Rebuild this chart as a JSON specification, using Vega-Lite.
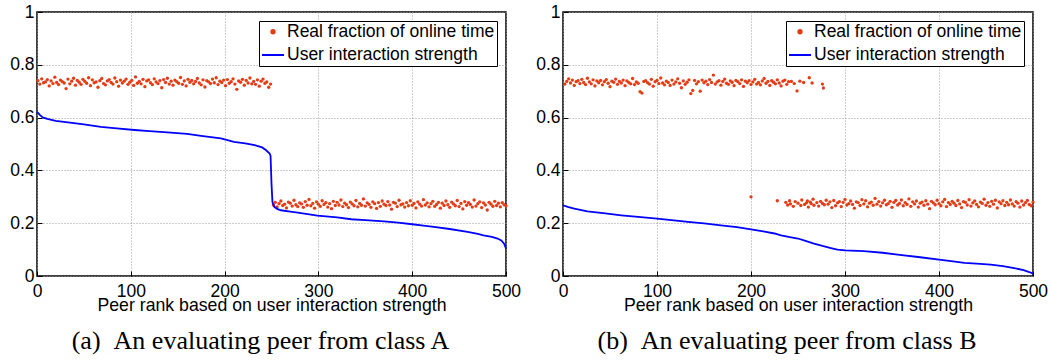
{
"$schema": "https://vega.github.io/schema/vega-lite/v6.json",
"padding": {"left": 8, "top": 2, "right": 2, "bottom": 2},
"spacing": 12,
"config": {
 "view": {"stroke": "#000000", "strokeWidth": 1.5},
 "axis": {"labelFont": "Liberation Sans", "labelFontSize": 17.5, "labelColor": "#000000", "titleFont": "Liberation Sans", "titleFontSize": 17.7, "titleFontWeight": "normal", "titleColor": "#000000", "domain": false, "gridColor": "#9a9a9a", "gridDash": [1, 2], "gridWidth": 1, "tickColor": "#000000", "tickSize": -5, "tickWidth": 1, "labelOverlap": false, "labelFlush": false},
 "legend": {"orient": "top-right", "offset": 9, "labelFont": "Liberation Sans", "labelFontSize": 17.5, "labelColor": "#000000", "labelLimit": 0, "strokeColor": "#000000", "fillColor": "#ffffff", "padding": 2, "rowPadding": 2, "labelOffset": 2, "symbolStrokeWidth": 2, "symbolOpacity": 1}
},
"resolve": {"scale": {"color": "independent", "shape": "independent", "size": "independent"}},
"datasets": {
 "ptsA": [
{"rank":1,"value":0.740},{"rank":3,"value":0.727},{"rank":5,"value":0.747},{"rank":7,"value":0.732},{"rank":9,"value":0.735},{"rank":11,"value":0.744},{"rank":13,"value":0.720},{"rank":15,"value":0.739},{"rank":17,"value":0.729},{"rank":19,"value":0.753},
{"rank":21,"value":0.733},{"rank":23,"value":0.725},{"rank":25,"value":0.742},{"rank":27,"value":0.736},{"rank":29,"value":0.731},{"rank":31,"value":0.710},{"rank":33,"value":0.746},{"rank":35,"value":0.728},{"rank":37,"value":0.738},{"rank":39,"value":0.749},
{"rank":41,"value":0.723},{"rank":43,"value":0.741},{"rank":45,"value":0.734},{"rank":47,"value":0.726},{"rank":49,"value":0.745},{"rank":51,"value":0.737},{"rank":53,"value":0.730},{"rank":55,"value":0.751},{"rank":57,"value":0.721},{"rank":59,"value":0.743},
{"rank":61,"value":0.732},{"rank":63,"value":0.735},{"rank":65,"value":0.715},{"rank":67,"value":0.740},{"rank":69,"value":0.748},{"rank":71,"value":0.729},{"rank":73,"value":0.724},{"rank":75,"value":0.739},{"rank":77,"value":0.744},{"rank":79,"value":0.733},
{"rank":81,"value":0.727},{"rank":83,"value":0.750},{"rank":85,"value":0.736},{"rank":87,"value":0.719},{"rank":89,"value":0.742},{"rank":91,"value":0.731},{"rank":93,"value":0.738},{"rank":95,"value":0.746},{"rank":97,"value":0.726},{"rank":99,"value":0.734},
{"rank":101,"value":0.741},{"rank":103,"value":0.722},{"rank":105,"value":0.754},{"rank":107,"value":0.730},{"rank":109,"value":0.737},{"rank":111,"value":0.728},{"rank":113,"value":0.745},{"rank":115,"value":0.717},{"rank":117,"value":0.739},{"rank":119,"value":0.743},
{"rank":121,"value":0.732},{"rank":123,"value":0.725},{"rank":125,"value":0.747},{"rank":127,"value":0.735},{"rank":129,"value":0.729},{"rank":131,"value":0.740},{"rank":133,"value":0.713},{"rank":135,"value":0.744},{"rank":137,"value":0.733},{"rank":139,"value":0.749},
{"rank":141,"value":0.727},{"rank":143,"value":0.738},{"rank":145,"value":0.723},{"rank":147,"value":0.742},{"rank":149,"value":0.736},{"rank":151,"value":0.730},{"rank":153,"value":0.752},{"rank":155,"value":0.726},{"rank":157,"value":0.739},{"rank":159,"value":0.720},
{"rank":161,"value":0.745},{"rank":163,"value":0.734},{"rank":165,"value":0.741},{"rank":167,"value":0.728},{"rank":169,"value":0.737},{"rank":171,"value":0.748},{"rank":173,"value":0.731},{"rank":175,"value":0.724},{"rank":177,"value":0.743},{"rank":179,"value":0.716},
{"rank":181,"value":0.740},{"rank":183,"value":0.735},{"rank":185,"value":0.729},{"rank":187,"value":0.746},{"rank":189,"value":0.732},{"rank":191,"value":0.751},{"rank":193,"value":0.725},{"rank":195,"value":0.738},{"rank":197,"value":0.733},{"rank":199,"value":0.742},
{"rank":201,"value":0.721},{"rank":203,"value":0.744},{"rank":205,"value":0.730},{"rank":207,"value":0.736},{"rank":209,"value":0.747},{"rank":211,"value":0.727},{"rank":213,"value":0.707},{"rank":215,"value":0.739},{"rank":217,"value":0.734},{"rank":219,"value":0.745},
{"rank":221,"value":0.723},{"rank":223,"value":0.741},{"rank":225,"value":0.731},{"rank":227,"value":0.750},{"rank":229,"value":0.728},{"rank":231,"value":0.737},{"rank":233,"value":0.726},{"rank":235,"value":0.743},{"rank":237,"value":0.719},{"rank":239,"value":0.738},
{"rank":241,"value":0.746},{"rank":243,"value":0.730},{"rank":245,"value":0.735},{"rank":247,"value":0.715},{"rank":249,"value":0.727},
{"rank":252,"value":0.269},{"rank":254,"value":0.279},{"rank":256,"value":0.262},{"rank":258,"value":0.274},{"rank":260,"value":0.284},{"rank":262,"value":0.267},{"rank":264,"value":0.272},{"rank":266,"value":0.258},{"rank":268,"value":0.280},{"rank":270,"value":0.276},
{"rank":272,"value":0.265},{"rank":274,"value":0.287},{"rank":276,"value":0.270},{"rank":278,"value":0.263},{"rank":280,"value":0.277},{"rank":282,"value":0.273},{"rank":284,"value":0.260},{"rank":286,"value":0.282},{"rank":288,"value":0.268},{"rank":290,"value":0.290},
{"rank":292,"value":0.266},{"rank":294,"value":0.275},{"rank":296,"value":0.257},{"rank":298,"value":0.281},{"rank":300,"value":0.272},{"rank":302,"value":0.264},{"rank":304,"value":0.285},{"rank":306,"value":0.271},{"rank":308,"value":0.278},{"rank":310,"value":0.261},
{"rank":312,"value":0.274},{"rank":314,"value":0.255},{"rank":316,"value":0.283},{"rank":318,"value":0.267},{"rank":320,"value":0.279},{"rank":322,"value":0.269},{"rank":324,"value":0.288},{"rank":326,"value":0.263},{"rank":328,"value":0.276},{"rank":330,"value":0.270},
{"rank":332,"value":0.259},{"rank":334,"value":0.280},{"rank":336,"value":0.273},{"rank":338,"value":0.266},{"rank":340,"value":0.286},{"rank":342,"value":0.262},{"rank":344,"value":0.275},{"rank":346,"value":0.268},{"rank":348,"value":0.292},{"rank":350,"value":0.265},
{"rank":352,"value":0.277},{"rank":354,"value":0.271},{"rank":356,"value":0.260},{"rank":358,"value":0.281},{"rank":360,"value":0.274},{"rank":362,"value":0.256},{"rank":364,"value":0.278},{"rank":366,"value":0.264},{"rank":368,"value":0.284},{"rank":370,"value":0.272},
{"rank":372,"value":0.267},{"rank":374,"value":0.282},{"rank":376,"value":0.269},{"rank":378,"value":0.253},{"rank":380,"value":0.279},{"rank":382,"value":0.276},{"rank":384,"value":0.263},{"rank":386,"value":0.287},{"rank":388,"value":0.270},{"rank":390,"value":0.273},
{"rank":392,"value":0.261},{"rank":394,"value":0.278},{"rank":396,"value":0.266},{"rank":398,"value":0.285},{"rank":400,"value":0.268},{"rank":402,"value":0.275},{"rank":404,"value":0.258},{"rank":406,"value":0.281},{"rank":408,"value":0.272},{"rank":410,"value":0.265},
{"rank":412,"value":0.289},{"rank":414,"value":0.269},{"rank":416,"value":0.277},{"rank":418,"value":0.262},{"rank":420,"value":0.274},{"rank":422,"value":0.283},{"rank":424,"value":0.264},{"rank":426,"value":0.271},{"rank":428,"value":0.279},{"rank":430,"value":0.257},
{"rank":432,"value":0.276},{"rank":434,"value":0.267},{"rank":436,"value":0.284},{"rank":438,"value":0.270},{"rank":440,"value":0.260},{"rank":442,"value":0.280},{"rank":444,"value":0.273},{"rank":446,"value":0.266},{"rank":448,"value":0.286},{"rank":450,"value":0.263},
{"rank":452,"value":0.275},{"rank":454,"value":0.254},{"rank":456,"value":0.282},{"rank":458,"value":0.268},{"rank":460,"value":0.278},{"rank":462,"value":0.271},{"rank":464,"value":0.261},{"rank":466,"value":0.288},{"rank":468,"value":0.265},{"rank":470,"value":0.274},
{"rank":472,"value":0.281},{"rank":474,"value":0.259},{"rank":476,"value":0.277},{"rank":478,"value":0.269},{"rank":480,"value":0.250},{"rank":482,"value":0.279},{"rank":484,"value":0.272},{"rank":486,"value":0.264},{"rank":488,"value":0.283},{"rank":490,"value":0.267},
{"rank":492,"value":0.276},{"rank":494,"value":0.262},{"rank":496,"value":0.278},{"rank":498,"value":0.270},{"rank":500,"value":0.266}
 ],
 "ptsB": [
{"rank":2,"value":0.727},{"rank":4,"value":0.737},{"rank":6,"value":0.747},{"rank":8,"value":0.731},{"rank":10,"value":0.742},{"rank":12,"value":0.722},{"rank":14,"value":0.736},{"rank":16,"value":0.740},{"rank":18,"value":0.729},{"rank":20,"value":0.745},
{"rank":22,"value":0.733},{"rank":24,"value":0.725},{"rank":26,"value":0.749},{"rank":28,"value":0.735},{"rank":30,"value":0.728},{"rank":32,"value":0.743},{"rank":34,"value":0.720},{"rank":36,"value":0.739},{"rank":38,"value":0.732},{"rank":40,"value":0.741},
{"rank":42,"value":0.724},{"rank":44,"value":0.736},{"rank":46,"value":0.744},{"rank":48,"value":0.730},{"rank":50,"value":0.717},{"rank":52,"value":0.738},{"rank":54,"value":0.734},{"rank":56,"value":0.746},{"rank":58,"value":0.726},{"rank":60,"value":0.737},
{"rank":62,"value":0.731},{"rank":64,"value":0.742},{"rank":66,"value":0.721},{"rank":68,"value":0.739},{"rank":70,"value":0.733},{"rank":72,"value":0.728},{"rank":74,"value":0.748},{"rank":76,"value":0.725},{"rank":78,"value":0.735},{"rank":80,"value":0.730},
{"rank":82,"value":0.698},{"rank":84,"value":0.693},{"rank":86,"value":0.737},{"rank":88,"value":0.740},{"rank":90,"value":0.732},{"rank":92,"value":0.727},{"rank":94,"value":0.745},{"rank":96,"value":0.719},{"rank":98,"value":0.736},{"rank":100,"value":0.741},
{"rank":102,"value":0.729},{"rank":104,"value":0.750},{"rank":106,"value":0.731},{"rank":108,"value":0.724},{"rank":110,"value":0.738},{"rank":112,"value":0.733},{"rank":114,"value":0.722},{"rank":116,"value":0.742},{"rank":118,"value":0.727},{"rank":120,"value":0.735},
{"rank":122,"value":0.747},{"rank":124,"value":0.730},{"rank":126,"value":0.713},{"rank":128,"value":0.739},{"rank":130,"value":0.726},{"rank":132,"value":0.734},{"rank":134,"value":0.743},{"rank":136,"value":0.691},{"rank":138,"value":0.703},{"rank":140,"value":0.741},
{"rank":142,"value":0.728},{"rank":144,"value":0.736},{"rank":146,"value":0.700},{"rank":148,"value":0.742},{"rank":150,"value":0.732},{"rank":152,"value":0.738},{"rank":154,"value":0.725},{"rank":156,"value":0.744},{"rank":158,"value":0.733},{"rank":160,"value":0.761},
{"rank":162,"value":0.727},{"rank":164,"value":0.735},{"rank":166,"value":0.740},{"rank":168,"value":0.723},{"rank":170,"value":0.737},{"rank":172,"value":0.746},{"rank":174,"value":0.730},{"rank":176,"value":0.726},{"rank":178,"value":0.739},{"rank":180,"value":0.734},
{"rank":182,"value":0.721},{"rank":184,"value":0.741},{"rank":186,"value":0.736},{"rank":188,"value":0.729},{"rank":190,"value":0.743},{"rank":192,"value":0.718},{"rank":194,"value":0.738},{"rank":196,"value":0.732},{"rank":198,"value":0.740},{"rank":200,"value":0.725},
{"rank":202,"value":0.735},{"rank":204,"value":0.745},{"rank":206,"value":0.727},{"rank":208,"value":0.733},{"rank":210,"value":0.724},{"rank":212,"value":0.739},{"rank":214,"value":0.748},{"rank":216,"value":0.730},{"rank":218,"value":0.737},{"rank":220,"value":0.722},
{"rank":222,"value":0.740},{"rank":224,"value":0.734},{"rank":226,"value":0.728},{"rank":228,"value":0.743},{"rank":230,"value":0.731},{"rank":232,"value":0.720},{"rank":234,"value":0.738},{"rank":236,"value":0.742},{"rank":238,"value":0.726},{"rank":240,"value":0.736},
{"rank":243,"value":0.737},{"rank":246,"value":0.729},{"rank":249,"value":0.701},{"rank":252,"value":0.738},{"rank":256,"value":0.733},{"rank":262,"value":0.751},{"rank":265,"value":0.731},{"rank":276,"value":0.727},{"rank":277,"value":0.712},
{"rank":200,"value":0.300},{"rank":228,"value":0.285},
{"rank":237,"value":0.279},{"rank":239,"value":0.269},{"rank":241,"value":0.285},{"rank":242,"value":0.273},{"rank":245,"value":0.264},{"rank":247,"value":0.282},{"rank":250,"value":0.276},{"rank":253,"value":0.267},{"rank":254,"value":0.288},{"rank":257,"value":0.271},
{"rank":259,"value":0.277},{"rank":260,"value":0.284},{"rank":261,"value":0.261},{"rank":263,"value":0.280},{"rank":264,"value":0.274},{"rank":266,"value":0.291},{"rank":267,"value":0.268},{"rank":270,"value":0.278},{"rank":272,"value":0.265},{"rank":274,"value":0.283},
{"rank":276,"value":0.275},{"rank":278,"value":0.270},{"rank":280,"value":0.287},{"rank":282,"value":0.272},{"rank":284,"value":0.281},{"rank":286,"value":0.259},{"rank":288,"value":0.286},{"rank":290,"value":0.266},{"rank":292,"value":0.277},{"rank":294,"value":0.282},
{"rank":296,"value":0.263},{"rank":298,"value":0.279},{"rank":300,"value":0.290},{"rank":302,"value":0.269},{"rank":304,"value":0.274},{"rank":306,"value":0.284},{"rank":308,"value":0.271},{"rank":310,"value":0.257},{"rank":312,"value":0.281},{"rank":314,"value":0.278},
{"rank":316,"value":0.267},{"rank":318,"value":0.289},{"rank":320,"value":0.273},{"rank":322,"value":0.285},{"rank":324,"value":0.262},{"rank":326,"value":0.276},{"rank":328,"value":0.280},{"rank":330,"value":0.268},{"rank":332,"value":0.294},{"rank":334,"value":0.272},
{"rank":336,"value":0.282},{"rank":338,"value":0.265},{"rank":340,"value":0.277},{"rank":342,"value":0.287},{"rank":344,"value":0.270},{"rank":346,"value":0.274},{"rank":348,"value":0.283},{"rank":350,"value":0.260},{"rank":352,"value":0.279},{"rank":354,"value":0.286},
{"rank":356,"value":0.269},{"rank":358,"value":0.275},{"rank":360,"value":0.288},{"rank":362,"value":0.266},{"rank":364,"value":0.278},{"rank":366,"value":0.271},{"rank":368,"value":0.292},{"rank":370,"value":0.264},{"rank":372,"value":0.281},{"rank":374,"value":0.273},
{"rank":376,"value":0.284},{"rank":378,"value":0.261},{"rank":380,"value":0.276},{"rank":382,"value":0.280},{"rank":384,"value":0.268},{"rank":386,"value":0.285},{"rank":388,"value":0.272},{"rank":390,"value":0.255},{"rank":392,"value":0.283},{"rank":394,"value":0.277},
{"rank":396,"value":0.270},{"rank":398,"value":0.287},{"rank":400,"value":0.274},{"rank":402,"value":0.266},{"rank":404,"value":0.281},{"rank":406,"value":0.290},{"rank":408,"value":0.263},{"rank":410,"value":0.278},{"rank":412,"value":0.271},{"rank":414,"value":0.283},
{"rank":416,"value":0.276},{"rank":418,"value":0.267},{"rank":420,"value":0.286},{"rank":422,"value":0.273},{"rank":424,"value":0.259},{"rank":426,"value":0.282},{"rank":428,"value":0.279},{"rank":430,"value":0.269},{"rank":432,"value":0.289},{"rank":434,"value":0.265},
{"rank":436,"value":0.277},{"rank":438,"value":0.284},{"rank":440,"value":0.271},{"rank":442,"value":0.262},{"rank":444,"value":0.280},{"rank":446,"value":0.275},{"rank":448,"value":0.291},{"rank":450,"value":0.268},{"rank":452,"value":0.278},{"rank":454,"value":0.264},
{"rank":456,"value":0.283},{"rank":458,"value":0.272},{"rank":460,"value":0.287},{"rank":462,"value":0.258},{"rank":464,"value":0.281},{"rank":466,"value":0.274},{"rank":468,"value":0.285},{"rank":470,"value":0.267},{"rank":472,"value":0.279},{"rank":474,"value":0.270},
{"rank":476,"value":0.288},{"rank":478,"value":0.273},{"rank":480,"value":0.265},{"rank":482,"value":0.282},{"rank":484,"value":0.276},{"rank":486,"value":0.261},{"rank":488,"value":0.284},{"rank":490,"value":0.269},{"rank":492,"value":0.278},{"rank":494,"value":0.286},
{"rank":496,"value":0.271},{"rank":498,"value":0.266},{"rank":500,"value":0.280}
 ],
 "lineA": [
{"rank":0,"value":0.622},{"rank":3,"value":0.610},{"rank":6,"value":0.601},{"rank":11,"value":0.595},{"rank":20,"value":0.588},{"rank":33,"value":0.582},{"rank":50,"value":0.574},{"rank":68,"value":0.565},{"rank":85,"value":0.559},{"rank":104,"value":0.553},
{"rank":120,"value":0.549},{"rank":139,"value":0.544},{"rank":160,"value":0.538},{"rank":175,"value":0.531},{"rank":196,"value":0.521},{"rank":210,"value":0.508},{"rank":222,"value":0.502},{"rank":232,"value":0.496},{"rank":240,"value":0.487},{"rank":244,"value":0.477},
{"rank":248,"value":0.464},{"rank":249,"value":0.455},{"rank":250,"value":0.350},{"rank":251,"value":0.280},{"rank":253,"value":0.262},{"rank":256,"value":0.254},{"rank":260,"value":0.249},{"rank":270,"value":0.244},{"rank":278,"value":0.240},{"rank":299,"value":0.229},
{"rank":320,"value":0.222},{"rank":335,"value":0.215},{"rank":350,"value":0.212},{"rank":370,"value":0.207},{"rank":385,"value":0.202},{"rank":400,"value":0.196},{"rank":412,"value":0.191},{"rank":423,"value":0.186},{"rank":440,"value":0.178},{"rank":459,"value":0.167},
{"rank":470,"value":0.160},{"rank":476,"value":0.154},{"rank":485,"value":0.148},{"rank":491,"value":0.142},{"rank":495,"value":0.135},{"rank":498,"value":0.122},{"rank":500,"value":0.104}
 ],
 "lineB": [
{"rank":0,"value":0.268},{"rank":5,"value":0.262},{"rank":12,"value":0.255},{"rank":26,"value":0.245},{"rank":45,"value":0.237},{"rank":62,"value":0.230},{"rank":80,"value":0.224},{"rank":100,"value":0.217},{"rank":118,"value":0.211},{"rank":133,"value":0.205},
{"rank":150,"value":0.199},{"rank":168,"value":0.192},{"rank":185,"value":0.185},{"rank":200,"value":0.177},{"rank":213,"value":0.169},{"rank":225,"value":0.161},{"rank":232,"value":0.154},{"rank":240,"value":0.148},{"rank":250,"value":0.142},{"rank":258,"value":0.133},
{"rank":267,"value":0.123},{"rank":276,"value":0.114},{"rank":285,"value":0.106},{"rank":292,"value":0.100},{"rank":300,"value":0.097},{"rank":320,"value":0.094},{"rank":340,"value":0.088},{"rank":356,"value":0.081},{"rank":380,"value":0.071},{"rank":400,"value":0.062},
{"rank":415,"value":0.055},{"rank":427,"value":0.050},{"rank":440,"value":0.047},{"rank":455,"value":0.043},{"rank":468,"value":0.037},{"rank":480,"value":0.030},{"rank":490,"value":0.022},{"rank":496,"value":0.015},{"rank":500,"value":0.009}
 ]
},
"hconcat": [
 {
  "width": 469, "height": 264,
  "title": {"text": "(a)\u00a0\u00a0An evaluating peer from class A", "orient": "bottom", "anchor": "middle", "font": "Liberation Serif", "fontSize": 26, "fontWeight": "normal", "color": "#000000", "offset": 14, "dx": -11},
  "layer": [
   {
    "data": {"name": "ptsA"},
    "mark": {"type": "point", "filled": true, "opacity": 1},
    "encoding": {
     "x": {"field": "rank", "type": "quantitative", "scale": {"domain": [0, 500], "nice": false, "zero": false}, "axis": {"values": [0, 100, 200, 300, 400, 500], "title": "Peer rank based on user interaction strength", "labelPadding": 11, "titlePadding": -3, "grid": true}},
     "y": {"field": "value", "type": "quantitative", "scale": {"domain": [0, 1], "nice": false}, "axis": {"values": [0, 0.2, 0.4, 0.6, 0.8, 1], "format": "~g", "title": null, "labelPadding": 8, "grid": true}},
     "color": {"datum": "Real fraction of online time", "scale": {"domain": ["Real fraction of online time", "User interaction strength"], "range": ["#e63c14", "#0000ff"]}, "legend": {"title": null}},
     "shape": {"datum": "Real fraction of online time", "scale": {"domain": ["Real fraction of online time", "User interaction strength"], "range": ["circle", "stroke"]}, "legend": {"title": null}},
     "size": {"datum": "Real fraction of online time", "scale": {"domain": ["Real fraction of online time", "User interaction strength"], "range": [11, 484]}, "legend": {"title": null}}
    }
   },
   {
    "data": {"name": "lineA"},
    "mark": {"type": "line", "strokeWidth": 1.8},
    "encoding": {
     "x": {"field": "rank", "type": "quantitative"},
     "y": {"field": "value", "type": "quantitative"},
     "color": {"datum": "User interaction strength", "legend": {"title": null}}
    }
   }
  ]
 },
 {
  "width": 470, "height": 264,
  "title": {"text": "(b)\u00a0\u00a0An evaluating peer from class B", "orient": "bottom", "anchor": "middle", "font": "Liberation Serif", "fontSize": 26, "fontWeight": "normal", "color": "#000000", "offset": 14, "dx": -11},
  "layer": [
   {
    "data": {"name": "ptsB"},
    "mark": {"type": "point", "filled": true, "opacity": 1},
    "encoding": {
     "x": {"field": "rank", "type": "quantitative", "scale": {"domain": [0, 500], "nice": false, "zero": false}, "axis": {"values": [0, 100, 200, 300, 400, 500], "title": "Peer rank based on user interaction strength", "labelPadding": 11, "titlePadding": -3, "grid": true}},
     "y": {"field": "value", "type": "quantitative", "scale": {"domain": [0, 1], "nice": false}, "axis": {"values": [0, 0.2, 0.4, 0.6, 0.8, 1], "format": "~g", "title": null, "labelPadding": 8, "grid": true}},
     "color": {"datum": "Real fraction of online time", "scale": {"domain": ["Real fraction of online time", "User interaction strength"], "range": ["#e63c14", "#0000ff"]}, "legend": {"title": null}},
     "shape": {"datum": "Real fraction of online time", "scale": {"domain": ["Real fraction of online time", "User interaction strength"], "range": ["circle", "stroke"]}, "legend": {"title": null}},
     "size": {"datum": "Real fraction of online time", "scale": {"domain": ["Real fraction of online time", "User interaction strength"], "range": [11, 484]}, "legend": {"title": null}}
    }
   },
   {
    "data": {"name": "lineB"},
    "mark": {"type": "line", "strokeWidth": 1.8},
    "encoding": {
     "x": {"field": "rank", "type": "quantitative"},
     "y": {"field": "value", "type": "quantitative"},
     "color": {"datum": "User interaction strength", "legend": {"title": null}}
    }
   }
  ]
 }
]
}
